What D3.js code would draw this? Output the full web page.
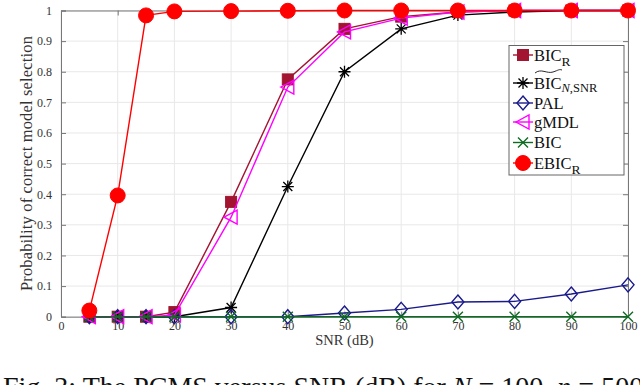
<!DOCTYPE html>
<html><head><meta charset="utf-8">
<script src="https://cdn.jsdelivr.net/npm/d3@7"></script>
<style>body{margin:0;background:#fff;} svg{display:block;}</style>
</head><body>
<svg id="c" width="640" height="385"></svg>
<script>
const snr = [5,10,15,20,30,40,50,60,70,80,90,100];
const bicR   = [0,0,0,0.015,0.375,0.775,0.94,0.98,0.995,1,1,1];
const bicNS  = [0,0,0,0,0.03,0.425,0.80,0.94,0.985,0.995,1,1];
const pal    = [0,0,0,0,0,0,0.012,0.024,0.048,0.05,0.074,0.104];
const gmdl   = [0,0,0,0.005,0.325,0.75,0.93,0.975,0.995,1,1,1];
const bic    = [0,0,0,0,0,0,0,0,0,0,0,0];
const ebicR  = [0.02,0.396,0.984,0.997,0.998,0.999,1,1,1,1,1,1];
const xTicks = [0,10,20,30,40,50,60,70,80,90,100];
const yTicks = [0,0.1,0.2,0.3,0.4,0.5,0.6,0.7,0.8,0.9,1];

const svg = d3.select("#c");
const x = d3.scaleLinear().domain([0,100]).range([61,628]);
const y = d3.scaleLinear().domain([0,1]).range([316.7,10.5]);
const serif = "Liberation Serif, Times New Roman, DejaVu Serif, serif";

// grid
svg.append("g").selectAll("line").data(xTicks).join("line")
  .attr("x1",d=>x(d)).attr("x2",d=>x(d)).attr("y1",y(0)).attr("y2",y(1))
  .attr("stroke","#e8e8e8").attr("stroke-width",1);
svg.append("g").selectAll("line").data(yTicks).join("line")
  .attr("x1",x(0)).attr("x2",x(100)).attr("y1",d=>y(d)).attr("y2",d=>y(d))
  .attr("stroke","#e8e8e8").attr("stroke-width",1);

// axes
const ax = svg.append("g").attr("transform",`translate(0,${y(0)})`)
  .call(d3.axisBottom(x).tickValues(xTicks).tickSize(-5).tickPadding(5).tickFormat(d3.format("d")));
const ay = svg.append("g").attr("transform",`translate(${x(0)},0)`)
  .call(d3.axisLeft(y).tickValues(yTicks).tickSize(-5).tickPadding(9).tickFormat(d=>d===0?"0":d===1?"1":d3.format(".1f")(d)));
const axT = svg.append("g").attr("transform",`translate(0,${y(1)})`)
  .call(d3.axisTop(x).tickValues(xTicks).tickSize(-5).tickFormat(""));
const ayR = svg.append("g").attr("transform",`translate(${x(100)},0)`)
  .call(d3.axisRight(y).tickValues(yTicks).tickSize(-5).tickFormat(""));
[ax,ay,axT,ayR].forEach(g=>{
  g.selectAll("path,line").attr("stroke","#777").attr("stroke-width",1);
  g.selectAll("text").attr("font-family",serif).attr("font-size",12).attr("fill","#333");
});

// labels
svg.append("text").attr("x",x(50)).attr("y",345).attr("text-anchor","middle")
  .attr("font-family",serif).attr("font-size",14.5).attr("fill","#333").text("SNR (dB)");
svg.append("text").attr("transform",`translate(32,${y(0.5)}) rotate(-90)`).attr("text-anchor","middle")
  .attr("font-family",serif).attr("font-size",16.5).attr("textLength",255).attr("lengthAdjust","spacing")
  .attr("fill","#333").text("Probability of correct model selection");

// series
const series = [
  {name:"bicR", v:bicR, color:"#A2142F", marker:"square"},
  {name:"bicNS", v:bicNS, color:"#000000", marker:"asterisk"},
  {name:"pal", v:pal, color:"#1a1a8c", marker:"diamond"},
  {name:"gmdl", v:gmdl, color:"#ff00ff", marker:"triangle"},
  {name:"bic", v:bic, color:"#0e6b22", marker:"cross"},
  {name:"ebic", v:ebicR, color:"#ff0000", marker:"circle"}
];
function drawMarker(g, type, color){
  if(type==="square") g.append("rect").attr("x",-5.5).attr("y",-5.5).attr("width",11).attr("height",11).attr("fill",color).attr("stroke",color);
  else if(type==="circle") g.append("circle").attr("r",7.5).attr("fill",color).attr("stroke",color);
  else if(type==="diamond") g.append("path").attr("d","M0,-7L6,0L0,7L-6,0Z").attr("fill","none").attr("stroke",color).attr("stroke-width",1.4);
  else if(type==="triangle") g.append("path").attr("d","M-7,0L6,-7L6,7Z").attr("fill","none").attr("stroke",color).attr("stroke-width",1.4);
  else if(type==="cross") g.append("path").attr("d","M-5,-5L5,5M-5,5L5,-5").attr("stroke",color).attr("stroke-width",1.4);
  else if(type==="asterisk") g.append("path").attr("d","M-6,0L6,0M0,-6L0,6M-4.5,-4.5L4.5,4.5M-4.5,4.5L4.5,-4.5").attr("stroke",color).attr("stroke-width",1.3);
}
const line = d3.line().x(d=>x(d[0])).y(d=>y(d[1]));
series.forEach(s=>{
  const pts = snr.map((t,i)=>[t,s.v[i]]);
  const g = svg.append("g");
  g.append("path").attr("d",line(pts)).attr("fill","none").attr("stroke",s.color).attr("stroke-width",1.4);
  pts.forEach(p=>{
    const m = g.append("g").attr("transform",`translate(${x(p[0])},${y(p[1])})`);
    drawMarker(m,s.marker,s.color);
  });
});

// legend
const lg = svg.append("g");
lg.append("rect").attr("x",509).attr("y",45.5).attr("width",115).attr("height",129.5).attr("fill","#fff").attr("stroke","#666").attr("stroke-width",1);
const legY = [55,83,103,122,142.5,163];
const legLabels = [["BIC","R",false],["BIC","N,SNR",true],["PAL",null,false],["gMDL",null,false],["BIC",null,false],["EBIC","R",false]];
series.forEach((s,i)=>{
  const yy = legY[i];
  lg.append("line").attr("x1",513).attr("x2",533).attr("y1",yy).attr("y2",yy).attr("stroke",s.color).attr("stroke-width",1.4);
  const m = lg.append("g").attr("transform",`translate(523,${yy})`);
  drawMarker(m,s.marker,s.color);
  const [main,sub,tilde] = legLabels[i];
  const t = lg.append("text").attr("x",534).attr("y",yy+5.5).attr("font-family",serif).attr("font-size",16.5).attr("fill","#111");
  t.append("tspan").text(main);
  if(sub){
    if(tilde){
      const ts = t.append("tspan").attr("dy",3).attr("font-size",12.5);
      ts.append("tspan").attr("font-style","italic").text("N");
      ts.append("tspan").text(",SNR");
    } else {
      t.append("tspan").attr("dy",5).attr("font-size",13.5).text(sub);
    }
  }
  if(tilde){
    lg.append("path").attr("d",`M535,${yy-10} C541,${yy-15} 547,${yy-9} 553,${yy-11} S559,${yy-14} 562,${yy-13}`)
      .attr("fill","none").attr("stroke","#111").attr("stroke-width",0.9);
  }
});

// caption
const cap = svg.append("text").attr("x",3).attr("y",396).attr("font-family",serif).attr("font-size",28).attr("fill","#111");
cap.append("tspan").text("Fig. 3: The PCMS versus SNR (dB) for ");
cap.append("tspan").attr("font-style","italic").text("N");
cap.append("tspan").text(" = 100, ");
cap.append("tspan").attr("font-style","italic").text("n");
cap.append("tspan").text(" = 500");
</script>
</body></html>
